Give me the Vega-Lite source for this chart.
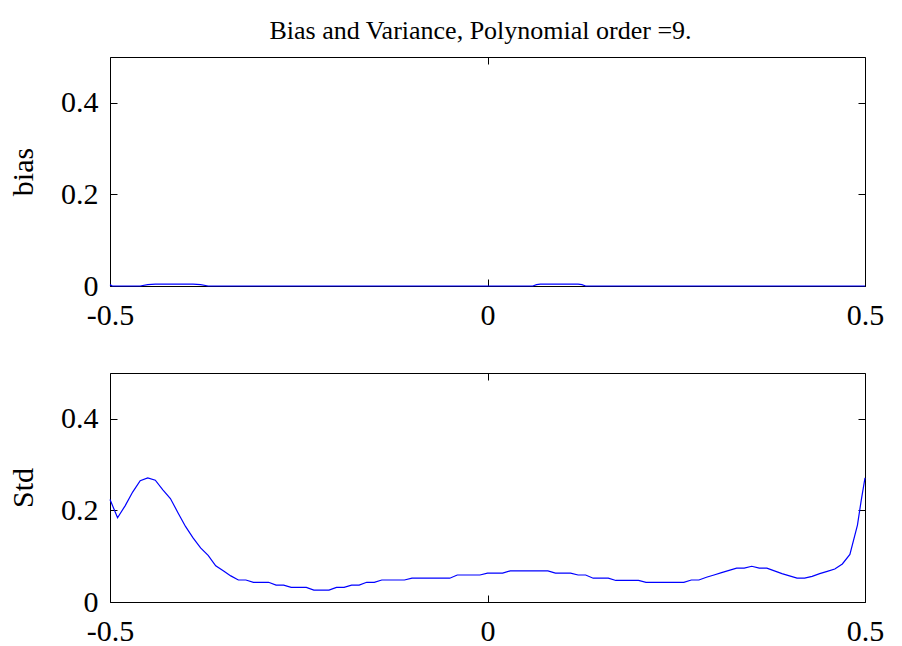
{
  "$schema": "https://vega.github.io/schema/vega-lite/v6.json",
  "background": "white",
  "padding": {"left": 8, "top": 17, "right": 5, "bottom": 5},
  "config": {
    "font": "Liberation Serif",
    "view": {"stroke": null},
    "axis": {
      "grid": false,
      "domainColor": "#000000",
      "domainWidth": 1,
      "tickColor": "#000000",
      "tickWidth": 1,
      "tickSize": -7,
      "labelFont": "Liberation Serif",
      "labelFontSize": 30,
      "labelColor": "#000000",
      "labelFlush": false,
      "labelOverlap": false,
      "titleFont": "Liberation Serif",
      "titleFontSize": 30,
      "titleFontWeight": "normal",
      "titleColor": "#000000"
    },
    "title": {"font": "Liberation Serif", "fontSize": 26, "fontWeight": "normal", "color": "#000000"}
  },
  "datasets": {
    "bias": [
      {"x": -0.5, "v": 0.003}, {"x": -0.497, "v": 0.0}, {"x": -0.46, "v": 0.0}, {"x": -0.45, "v": 0.003},
      {"x": -0.44, "v": 0.004}, {"x": -0.43, "v": 0.004}, {"x": -0.42, "v": 0.004}, {"x": -0.41, "v": 0.004},
      {"x": -0.4, "v": 0.004}, {"x": -0.39, "v": 0.004}, {"x": -0.38, "v": 0.003}, {"x": -0.37, "v": 0.0},
      {"x": 0.06, "v": 0.0}, {"x": 0.065, "v": 0.003}, {"x": 0.07, "v": 0.004}, {"x": 0.08, "v": 0.004},
      {"x": 0.09, "v": 0.004}, {"x": 0.1, "v": 0.004}, {"x": 0.11, "v": 0.004}, {"x": 0.12, "v": 0.004},
      {"x": 0.125, "v": 0.003}, {"x": 0.13, "v": 0.0}, {"x": 0.5, "v": 0.0}
    ],
    "std": [
      {"x": -0.5, "v": 0.224}, {"x": -0.49, "v": 0.184}, {"x": -0.48, "v": 0.21}, {"x": -0.47, "v": 0.24},
      {"x": -0.46, "v": 0.265}, {"x": -0.45, "v": 0.271}, {"x": -0.44, "v": 0.266}, {"x": -0.43, "v": 0.245},
      {"x": -0.42, "v": 0.226}, {"x": -0.41, "v": 0.195}, {"x": -0.4, "v": 0.165}, {"x": -0.39, "v": 0.14},
      {"x": -0.38, "v": 0.118}, {"x": -0.37, "v": 0.102}, {"x": -0.36, "v": 0.079}, {"x": -0.35, "v": 0.068},
      {"x": -0.34, "v": 0.057}, {"x": -0.33, "v": 0.048}, {"x": -0.32, "v": 0.048}, {"x": -0.31, "v": 0.043},
      {"x": -0.3, "v": 0.043}, {"x": -0.29, "v": 0.043}, {"x": -0.28, "v": 0.037}, {"x": -0.27, "v": 0.037},
      {"x": -0.26, "v": 0.032}, {"x": -0.25, "v": 0.032}, {"x": -0.24, "v": 0.032}, {"x": -0.23, "v": 0.026},
      {"x": -0.22, "v": 0.026}, {"x": -0.21, "v": 0.026}, {"x": -0.2, "v": 0.032}, {"x": -0.19, "v": 0.032},
      {"x": -0.18, "v": 0.037}, {"x": -0.17, "v": 0.037}, {"x": -0.16, "v": 0.043}, {"x": -0.15, "v": 0.043},
      {"x": -0.14, "v": 0.048}, {"x": -0.13, "v": 0.048}, {"x": -0.12, "v": 0.048}, {"x": -0.11, "v": 0.048},
      {"x": -0.1, "v": 0.052}, {"x": -0.09, "v": 0.052}, {"x": -0.08, "v": 0.052}, {"x": -0.07, "v": 0.052},
      {"x": -0.06, "v": 0.052}, {"x": -0.05, "v": 0.052}, {"x": -0.04, "v": 0.059}, {"x": -0.03, "v": 0.059},
      {"x": -0.02, "v": 0.059}, {"x": -0.01, "v": 0.059}, {"x": 0.0, "v": 0.063}, {"x": 0.01, "v": 0.063},
      {"x": 0.02, "v": 0.063}, {"x": 0.03, "v": 0.068}, {"x": 0.04, "v": 0.068}, {"x": 0.05, "v": 0.068},
      {"x": 0.06, "v": 0.068}, {"x": 0.07, "v": 0.068}, {"x": 0.08, "v": 0.068}, {"x": 0.09, "v": 0.063},
      {"x": 0.1, "v": 0.063}, {"x": 0.11, "v": 0.063}, {"x": 0.12, "v": 0.059}, {"x": 0.13, "v": 0.059},
      {"x": 0.14, "v": 0.052}, {"x": 0.15, "v": 0.052}, {"x": 0.16, "v": 0.052}, {"x": 0.17, "v": 0.047},
      {"x": 0.18, "v": 0.047}, {"x": 0.19, "v": 0.047}, {"x": 0.2, "v": 0.047}, {"x": 0.21, "v": 0.043},
      {"x": 0.22, "v": 0.043}, {"x": 0.23, "v": 0.043}, {"x": 0.24, "v": 0.043}, {"x": 0.25, "v": 0.043},
      {"x": 0.26, "v": 0.043}, {"x": 0.27, "v": 0.048}, {"x": 0.28, "v": 0.048}, {"x": 0.29, "v": 0.054},
      {"x": 0.3, "v": 0.059}, {"x": 0.31, "v": 0.064}, {"x": 0.32, "v": 0.069}, {"x": 0.33, "v": 0.074},
      {"x": 0.34, "v": 0.074}, {"x": 0.35, "v": 0.078}, {"x": 0.36, "v": 0.074}, {"x": 0.37, "v": 0.074},
      {"x": 0.38, "v": 0.068}, {"x": 0.39, "v": 0.062}, {"x": 0.4, "v": 0.057}, {"x": 0.41, "v": 0.052},
      {"x": 0.42, "v": 0.052}, {"x": 0.43, "v": 0.056}, {"x": 0.44, "v": 0.062}, {"x": 0.45, "v": 0.067},
      {"x": 0.46, "v": 0.072}, {"x": 0.47, "v": 0.083}, {"x": 0.48, "v": 0.104}, {"x": 0.49, "v": 0.168},
      {"x": 0.495, "v": 0.222}, {"x": 0.5, "v": 0.271}
    ]
  },
  "spacing": 87,
  "bounds": "flush",
  "vconcat": [
    {
      "width": 755,
      "height": 229,
      "title": {"text": "Bias and Variance, Polynomial order =9.", "anchor": "middle", "offset": 13, "dx": -7},
      "data": {"name": "bias"},
      "layer": [
        {
          "mark": {"type": "line", "color": "#0000ff", "strokeWidth": 1.2, "clip": false},
          "encoding": {
            "x": {"field": "x", "type": "quantitative", "scale": {"domain": [-0.5, 0.5], "nice": false, "zero": false},
                  "axis": {"orient": "bottom", "title": null, "values": [-0.5, 0, 0.5], "labelExpr": "'' + datum.value", "labelPadding": 21}},
            "y": {"field": "v", "type": "quantitative", "scale": {"domain": [0, 0.5], "nice": false, "zero": false},
                  "axis": {"orient": "left", "title": "bias", "values": [0, 0.2, 0.4], "labelExpr": "'' + datum.value", "labelPadding": 19, "titlePadding": 22}}
          }
        },
        {
          "mark": {"type": "line", "opacity": 0},
          "encoding": {
            "x": {"field": "x", "type": "quantitative", "axis": {"orient": "top", "title": null, "labels": false, "values": [-0.5, 0, 0.5]}},
            "y": {"field": "v", "type": "quantitative", "axis": {"orient": "right", "title": null, "labels": false, "values": [0, 0.2, 0.4]}}
          }
        }
      ],
      "resolve": {"axis": {"x": "independent", "y": "independent"}}
    },
    {
      "width": 755,
      "height": 229,
      "data": {"name": "std"},
      "layer": [
        {
          "mark": {"type": "line", "color": "#0000ff", "strokeWidth": 1.2, "clip": false},
          "encoding": {
            "x": {"field": "x", "type": "quantitative", "scale": {"domain": [-0.5, 0.5], "nice": false, "zero": false},
                  "axis": {"orient": "bottom", "title": null, "values": [-0.5, 0, 0.5], "labelExpr": "'' + datum.value", "labelPadding": 21}},
            "y": {"field": "v", "type": "quantitative", "scale": {"domain": [0, 0.5], "nice": false, "zero": false},
                  "axis": {"orient": "left", "title": "Std", "values": [0, 0.2, 0.4], "labelExpr": "'' + datum.value", "labelPadding": 19, "titlePadding": 22}}
          }
        },
        {
          "mark": {"type": "line", "opacity": 0},
          "encoding": {
            "x": {"field": "x", "type": "quantitative", "axis": {"orient": "top", "title": null, "labels": false, "values": [-0.5, 0, 0.5]}},
            "y": {"field": "v", "type": "quantitative", "axis": {"orient": "right", "title": null, "labels": false, "values": [0, 0.2, 0.4]}}
          }
        }
      ],
      "resolve": {"axis": {"x": "independent", "y": "independent"}}
    }
  ]
}
